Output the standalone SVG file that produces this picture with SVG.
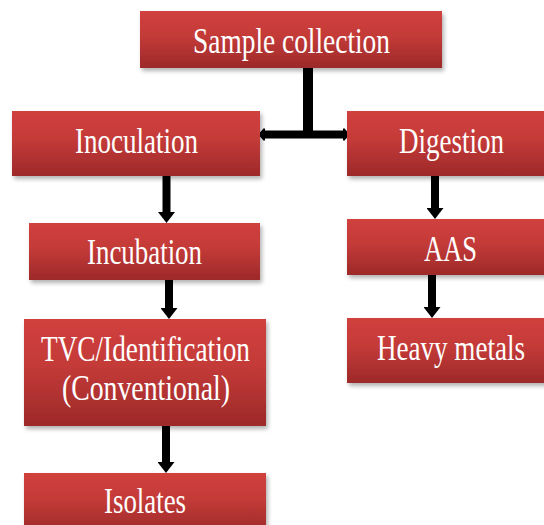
<svg xmlns="http://www.w3.org/2000/svg" width="544" height="525" viewBox="0 0 544 525">
<defs>
<linearGradient id="red" x1="0" y1="0" x2="0" y2="1">
<stop offset="0" stop-color="#d1403e"/>
<stop offset="0.45" stop-color="#c33a38"/>
<stop offset="1" stop-color="#9d2929"/>
</linearGradient>
<filter id="sh" x="-10%" y="-10%" width="120%" height="140%">
<feDropShadow dx="2" dy="3" stdDeviation="2" flood-color="#000" flood-opacity="0.3"/>
</filter>
<marker id="ah" markerUnits="userSpaceOnUse" markerWidth="11" markerHeight="17" viewBox="0 0 11 17" refX="0" refY="8.5" orient="auto">
<path d="M0,0 L11,8.5 L0,17 z" fill="#000"/>
</marker>
<marker id="sh2" markerUnits="userSpaceOnUse" markerWidth="7" markerHeight="13" viewBox="0 0 7 13" refX="1" refY="6.5" orient="auto">
<path d="M0,1 L1,0 L7,6.5 L1,13 L0,12 z" fill="#000"/>
</marker>
</defs>
<style>
.box{fill:url(#red);filter:url(#sh);}
.t{font-family:'Liberation Serif','DejaVu Serif',serif;font-size:36px;fill:#fff;text-anchor:middle;}
.c{stroke:#000;stroke-width:8;fill:none;}
</style>
<g id="connectors">
<line class="c" x1="308" y1="68" x2="308" y2="134" style="stroke-width:10"/>
<line class="c" x1="303" y1="134.5" x2="264" y2="134.5" marker-end="url(#sh2)"/>
<line class="c" x1="303" y1="134.5" x2="344" y2="134.5" marker-end="url(#sh2)"/>
<line class="c" x1="166.5" y1="176" x2="166.5" y2="212" marker-end="url(#ah)"/>
<line class="c" x1="169" y1="280" x2="169" y2="308" marker-end="url(#ah)"/>
<line class="c" x1="166" y1="426" x2="166" y2="462" marker-end="url(#ah)"/>
<line class="c" x1="435" y1="176" x2="435" y2="208" marker-end="url(#ah)"/>
<line class="c" x1="432" y1="275" x2="432" y2="307" marker-end="url(#ah)"/>
</g>
<g id="sample">
<rect class="box" x="140" y="11" width="302" height="57"/>
<text class="t" x="291.5" y="53" textLength="197" lengthAdjust="spacingAndGlyphs">Sample collection</text>
</g>
<g id="inoculation">
<rect class="box" x="12" y="111" width="248" height="65"/>
<text class="t" x="136.5" y="153" textLength="123" lengthAdjust="spacingAndGlyphs">Inoculation</text>
</g>
<g id="digestion">
<rect class="box" x="347" y="111" width="200" height="65"/>
<text class="t" x="451.5" y="153" textLength="105" lengthAdjust="spacingAndGlyphs">Digestion</text>
</g>
<g id="incubation">
<rect class="box" x="29" y="223" width="231" height="57"/>
<text class="t" x="144.5" y="264" textLength="115" lengthAdjust="spacingAndGlyphs">Incubation</text>
</g>
<g id="aas">
<rect class="box" x="347" y="219" width="200" height="56"/>
<text class="t" x="450.5" y="261" textLength="53" lengthAdjust="spacingAndGlyphs">AAS</text>
</g>
<g id="tvc">
<rect class="box" x="24" y="319" width="242" height="107"/>
<text class="t" x="145.5" y="361" textLength="209" lengthAdjust="spacingAndGlyphs">TVC/Identification</text>
<text class="t" x="146" y="400" textLength="168" lengthAdjust="spacingAndGlyphs">(Conventional)</text>
</g>
<g id="heavy">
<rect class="box" x="347" y="318" width="200" height="65"/>
<text class="t" x="451" y="360" textLength="148" lengthAdjust="spacingAndGlyphs">Heavy metals</text>
</g>
<g id="isolates">
<rect class="box" x="24" y="473" width="242" height="60"/>
<text class="t" x="145" y="513" textLength="82" lengthAdjust="spacingAndGlyphs">Isolates</text>
</g>
</svg>
